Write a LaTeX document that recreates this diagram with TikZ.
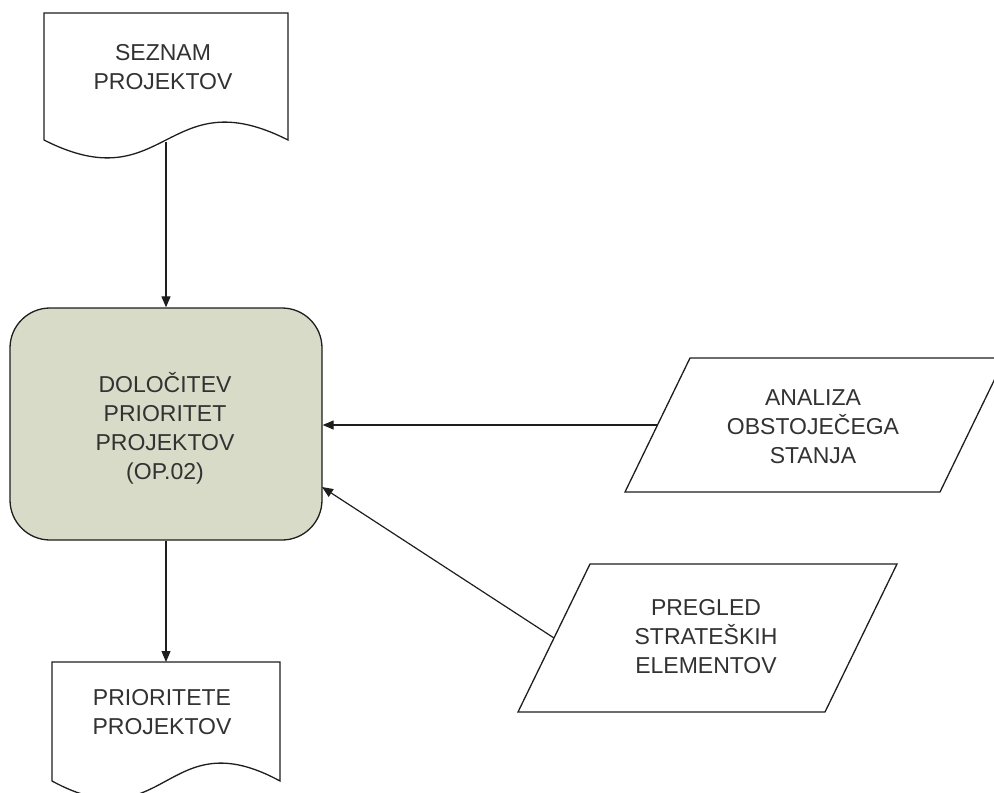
\documentclass[tikz,border=0pt]{standalone}
\usepackage{fontspec}
\setmainfont{Liberation Sans}
\usetikzlibrary{arrows.meta}
\definecolor{procfill}{RGB}{216,219,200}
\definecolor{inkline}{RGB}{30,30,30}
\definecolor{inktext}{RGB}{50,50,50}
\begin{document}
\begin{tikzpicture}[x=1pt,y=-1pt,
  shapeline/.style={draw=inkline,line width=1.3pt,line join=miter},
  label/.style={text=inktext,font=\fontsize{23}{29}\selectfont,align=center,inner sep=0pt},
  flow/.style={draw=inkline,line width=1.2pt,-{Triangle[length=11pt,width=9pt]}}]
\useasboundingbox (0,0) rectangle (994,793);
\clip (0,0) rectangle (994,793);

% input document: project list
\draw[shapeline,fill=white] (44,140) -- (44,13) -- (288,13) -- (288,140)
  .. controls (166,78) and (166,202) .. (44,140) -- cycle;
\node[label] (listtxt) at (163,67) {SEZNAM\\PROJEKTOV};
\coordinate (listout) at (166,142);

% process
\node[shapeline,fill=procfill,rounded corners=40pt,minimum width=312pt,
  minimum height=232pt,inner sep=0pt] (proc) at (166,424) {};
\node[label] (proctxt) at (165,428) {DOLOČITEV\\PRIORITET\\PROJEKTOV\\(OP.02)};

% output document: project priorities
\draw[shapeline,fill=white] (52,781) -- (52,662) -- (280,662) -- (280,781)
  .. controls (166,719) and (166,843) .. (52,781) -- cycle;
\node[label] (outtxt) at (162,712) {PRIORITETE\\PROJEKTOV};
\coordinate (outin) at (166,662);

% data input: analysis of the current state
\draw[shapeline,fill=white] (690,358) -- (1005,358) -- (940,492) -- (625,492) -- cycle;
\node[label] (anatxt) at (813,427) {ANALIZA\\OBSTOJEČEGA\\STANJA};
\coordinate (anaout) at (658,425);

% data input: review of strategic elements
\draw[shapeline,fill=white] (590,564) -- (897,564) -- (825,712) -- (518,712) -- cycle;
\node[label] (pregtxt) at (706,637) {PREGLED\\STRATEŠKIH\\ELEMENTOV};
\coordinate (pregout) at (554,638);

% connectors
\draw[flow] (listout) -- (proc.north);
\draw[flow] (proc.south) -- (outin);
\draw[flow] (anaout) -- (proc.east |- anaout);
\coordinate (procin) at (322,487);
\draw[flow] (pregout) -- (procin);
\end{tikzpicture}
\end{document}
